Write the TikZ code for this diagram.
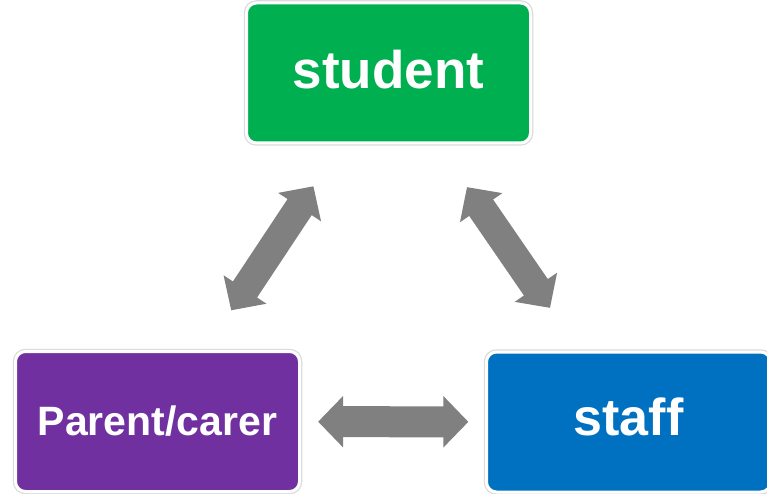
\documentclass[tikz,border=0pt]{standalone}
\usepackage{fontspec}
\setmainfont{Liberation Sans}
\usetikzlibrary{arrows.meta,calc}
\definecolor{cgreen}{HTML}{00B050}
\definecolor{cpurple}{HTML}{7030A0}
\definecolor{cblue}{HTML}{0070C0}
\definecolor{cgray}{HTML}{808080}
\begin{document}
\begin{tikzpicture}[x=1pt,y=-1pt,
  box/.style={rectangle, rounded corners=10pt, minimum width=284pt, minimum height=140pt,
    inner sep=0pt, outer sep=0pt, draw=white, line width=3pt, text=white,
    font=\bfseries, preaction={draw=black!14, line width=5.5pt}},
  dblarrow/.style={draw=cgray, line width=31pt,
    {Triangle[width=50pt,length=25pt]}-{Triangle[width=50pt,length=25pt]}}]
\useasboundingbox (0,0) rectangle (767,494);
\node[box, fill=cgreen] (student) at (388.5,73) {\fontsize{53}{60}\selectfont\raisebox{8pt}{student}};
\node[box, fill=cpurple] (parent) at (157.5,421.5) {\fontsize{41}{48}\selectfont Parent/carer};
\node[box, fill=cblue] (staff) at (628.5,422) {\fontsize{52}{60}\selectfont\raisebox{10pt}{staff}};
\draw[dblarrow, line width=29pt] ($(parent.center)!0.319!(student.center)$) -- ($(parent.center)!0.675!(student.center)$);
\draw[dblarrow, line width=29pt] ($(student.center)!0.327!(staff.center)$) -- ($(student.center)!0.673!(staff.center)$);
\draw[dblarrow] ($(parent.center)!0.341!(staff.center)$) -- ($(parent.center)!0.66!(staff.center)$);
\end{tikzpicture}
\end{document}
